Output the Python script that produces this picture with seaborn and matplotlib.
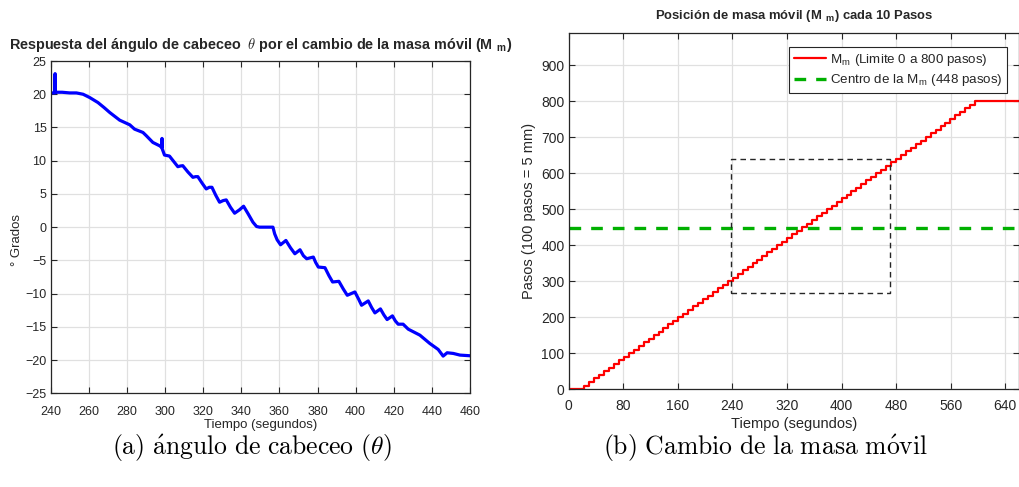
import matplotlib
matplotlib.use("Agg")
import matplotlib.pyplot as plt
import seaborn as sns
import pandas as pd

# ---------------- data ----------------
# (a) pitch angle response
t_theta = [240.0, 242.2, 242.3, 242.4, 246.0, 250.0, 253.5, 257.0, 260.5, 264.8,
           268.0, 271.0, 276.2, 281.5, 284.0, 288.4, 290.2, 293.6, 297.1, 298.3,
           298.4, 298.5, 299.7, 302.3, 304.5, 306.7, 308.0, 309.3, 312.0, 314.6,
           316.0, 317.2, 319.5, 321.6, 323.2, 324.6, 326.6, 328.6, 330.5, 332.1,
           334.3, 336.5, 339.0, 341.2, 343.6, 346.1, 348.0, 349.6, 356.6, 357.5,
           358.8, 360.6, 363.4, 365.8, 368.1, 370.8, 372.6, 374.3, 377.8, 379.0,
           380.4, 383.9, 386.0, 387.9, 391.2, 393.5, 395.6, 399.6, 401.5, 403.1,
           406.6, 408.4, 410.1, 413.0, 414.8, 416.5, 419.3, 420.8, 422.3, 424.9,
           427.6, 433.7, 438.9, 443.3, 445.9, 448.0, 451.2, 454.7, 460.0]
theta = [20.2, 20.2, 23.1, 20.3, 20.3, 20.2, 20.2, 20.0, 19.5, 18.75,
         18.0, 17.25, 16.1, 15.4, 14.75, 14.25, 13.75, 12.75, 12.25, 12.0,
         13.35, 11.8, 10.85, 10.7, 9.9, 9.1, 9.2, 9.25, 8.3, 7.5,
         7.6, 7.6, 6.6, 5.75, 6.0, 6.0, 4.8, 3.75, 4.0, 4.1,
         3.0, 2.1, 2.6, 3.15, 2.0, 0.75, 0.1, 0.0, 0.0, -1.0,
         -1.9, -2.65, -2.0, -3.1, -4.0, -3.4, -4.3, -4.75, -4.5, -5.3,
         -6.0, -6.1, -7.3, -8.25, -8.15, -9.3, -10.25, -9.75, -10.8, -11.75,
         -11.1, -12.1, -12.9, -12.3, -13.2, -13.9, -13.35, -14.1, -14.6, -14.6,
         -15.35, -16.25, -17.5, -18.4, -19.4, -18.9, -19.0, -19.25, -19.35]

# (b) moving-mass position, changes every 10 steps
t_steps = [0.0, 23.0, 30.25, 37.5, 44.75, 52.0, 59.25, 66.5, 73.75, 81.0, 88.25,
           95.5, 102.75, 110.0, 117.25, 124.5, 131.75, 139.0, 146.25, 153.5, 160.75,
           168.0, 175.25, 182.5, 189.75, 197.0, 204.25, 211.5, 218.75, 226.0, 233.25,
           240.5, 247.75, 255.0, 262.25, 269.5, 276.75, 284.0, 291.25, 298.5, 305.75,
           313.0, 320.25, 327.5, 334.75, 342.0, 349.25, 356.5, 363.75, 371.0, 378.25,
           385.5, 392.75, 400.0, 407.25, 414.5, 421.75, 429.0, 436.25, 443.5, 450.75,
           458.0, 465.25, 472.5, 479.75, 487.0, 494.25, 501.5, 508.75, 516.0, 523.25,
           530.5, 537.75, 545.0, 552.25, 559.5, 566.75, 574.0, 581.25, 588.5, 596.0,
           660.0]
pasos = [0, 10, 20, 30, 40, 50, 60, 70, 80, 90, 100,
         110, 120, 130, 140, 150, 160, 170, 180, 190, 200,
         210, 220, 230, 240, 250, 260, 270, 280, 290, 300,
         310, 320, 330, 340, 350, 360, 370, 380, 390, 400,
         410, 420, 430, 440, 450, 460, 470, 480, 490, 500,
         510, 520, 530, 540, 550, 560, 570, 580, 590, 600,
         610, 620, 630, 640, 650, 660, 670, 680, 690, 700,
         710, 720, 730, 740, 750, 760, 770, 780, 790, 800,
         800]
centro_t = [0, 660]
centro_val = [448, 448]
zoom_box_t = [238, 471, 471, 238, 238]
zoom_box_p = [267, 267, 638, 638, 267]

xticks_a = [240, 260, 280, 300, 320, 340, 360, 380, 400, 420, 440, 460]
yticks_a = [-25, -20, -15, -10, -5, 0, 5, 10, 15, 20, 25]
xticks_b = [0, 80, 160, 240, 320, 400, 480, 560, 640]
yticks_b = [0, 100, 200, 300, 400, 500, 600, 700, 800, 900]

# ---------------- style ----------------
sns.set_theme(style="whitegrid")
plt.rcParams['font.family'] = ['Liberation Sans', 'DejaVu Sans']
plt.rcParams['mathtext.fontset'] = 'cm'
dark = '#262626'
plt.rcParams.update({
    'axes.edgecolor': dark, 'axes.linewidth': 0.9,
    'grid.color': '#e0e0e0', 'grid.linewidth': 0.9,
    'xtick.direction': 'in', 'ytick.direction': 'in',
    'xtick.top': True, 'ytick.right': True,
    'xtick.bottom': True, 'ytick.left': True,
    'xtick.color': dark, 'ytick.color': dark,
    'xtick.major.size': 4, 'ytick.major.size': 4,
    'xtick.major.width': 0.8, 'ytick.major.width': 0.8,
    'text.color': dark, 'axes.labelcolor': dark,
})

fig = plt.figure(figsize=(10.2, 4.87), dpi=100)
ax1 = fig.add_axes([0.0497, 0.1924, 0.4111, 0.6823])
ax2 = fig.add_axes([0.5575, 0.2006, 0.4415, 0.7310])

df_a = pd.DataFrame({'t': t_theta, 'theta': theta})
sns.lineplot(data=df_a, x='t', y='theta', ax=ax1, color='#0000ff', lw=2.3,
             sort=False, estimator=None)
ax1.set_xlim(240, 460)
ax1.set_ylim(-25, 25)
ax1.set_xticks(xticks_a)
ax1.set_yticks(yticks_a)
ax1.tick_params(labelsize=9, pad=3)
ax1.tick_params(axis='x', pad=9)
ax1.set_xlabel('Tiempo (segundos)', fontsize=9.5, labelpad=1)
ax1.set_ylabel('° Grados', fontsize=9.5, labelpad=4)
ax1.yaxis.set_label_coords(-0.066, 0.46)
ax1.set_title(r'Respuesta del ángulo de cabeceo  $\theta$ por el cambio de la masa móvil (M $_{\mathregular{m}}$)',
              fontsize=10.4, fontweight='bold', pad=9)

df_b = pd.DataFrame({'t': t_steps, 'p': pasos})
sns.lineplot(data=df_b, x='t', y='p', ax=ax2, color='#ff0000', lw=1.6,
             drawstyle='steps-post', sort=False, estimator=None,
             label=r'M$_{\mathregular{m}}$ (Limite 0 a 800 pasos)')
sns.lineplot(x=centro_t, y=centro_val, ax=ax2, color='#00b000', lw=2.4,
             linestyle=(0, (3.5, 3)), label=r'Centro de la M$_{\mathregular{m}}$ (448 pasos)')
ax2.plot(zoom_box_t, zoom_box_p, color=dark, lw=1.0, linestyle=(0, (4, 3)))
ax2.set_xlim(0, 660)
ax2.set_ylim(0, 988)
ax2.set_xticks(xticks_b)
ax2.set_yticks(yticks_b)
ax2.tick_params(labelsize=10, pad=3)
ax2.tick_params(axis='x', pad=7)
ax2.set_xlabel('Tiempo (segundos)', fontsize=10.5, labelpad=3)
ax2.set_ylabel('Pasos (100 pasos = 5 mm)', fontsize=10.5, labelpad=4)
ax2.set_title(r'Posición de masa móvil (M $_{\mathregular{m}}$) cada 10 Pasos',
              fontsize=9.4, fontweight='bold', pad=10)
leg = ax2.legend(loc='upper right', bbox_to_anchor=(0.973, 0.9615), borderaxespad=0,
                 fontsize=9.6, frameon=True, fancybox=False, framealpha=1,
                 edgecolor=dark, handlelength=2.4, handletextpad=0.3,
                 borderpad=0.35, labelspacing=0.35)
leg.get_frame().set_linewidth(0.8)

for ax in (ax1, ax2):
    for s in ax.spines.values():
        s.set_visible(True)
        s.set_color(dark)

cap_a = r'$\mathrm{(a)\ \acute{a}ngulo\ de\ cabeceo\ (}\theta\mathrm{)}$'
cap_b = r'$\mathrm{(b)\ Cambio\ de\ la\ masa\ m\acute{o}vil}$'
fig.text(252 / 1020, 1 - 448 / 487, cap_a, fontsize=18.5,
         ha='center', va='center', color='black')
fig.text(766 / 1020, 1 - 448 / 487, cap_b, fontsize=18.5,
         ha='center', va='center', color='black')

fig.savefig('out.png', dpi=100, facecolor='white')
